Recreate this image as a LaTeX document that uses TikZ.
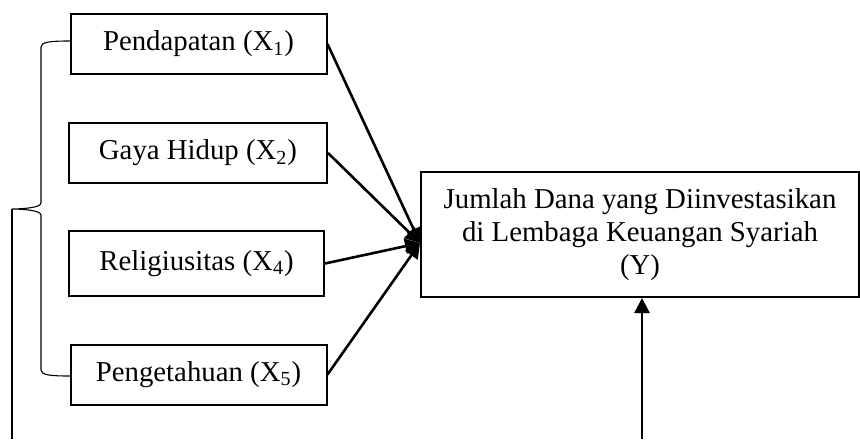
\documentclass[tikz,border=0pt]{standalone}
\usepackage{fontspec}
\setmainfont{Liberation Serif}
\usetikzlibrary{arrows.meta}
\tikzset{
  varbox/.style={draw, line width=1pt, minimum width=128pt, minimum height=30pt,
    inner sep=0pt, font=\fontsize{14.4}{16.5}\selectfont},
  link/.style={line width=1.3pt, -{Triangle[length=7.5pt,width=7.5pt]}},
  bracket/.style={line width=0.55pt}
}
\begin{document}
\begin{tikzpicture}[x=0.5pt,y=-0.5pt]
  \useasboundingbox (0,0) rectangle (860,439);
  % four boxes stacked on the left
  \node[varbox] (pend) at (198.5,44) {Pendapatan (X\textsubscript{1})};
  \node[varbox, minimum width=129pt] (gaya) at (198,153) {Gaya Hidup (X\textsubscript{2})};
  \node[varbox, minimum width=127.5pt, minimum height=32.5pt] (reli) at (196.5,263.5) {Religiusitas (X\textsubscript{4})};
  \node[varbox] (peng) at (198.5,374.5) {Pengetahuan (X\textsubscript{5})};

  % big box on the right with three lines of text
  \node[varbox, minimum width=219pt, minimum height=62.5pt, align=center] (dana) at (640,234.5)
    {Jumlah Dana yang Diinvestasikan\\di Lembaga Keuangan Syariah\\(Y)};

  % all four arrows meet at one point on the left side of the big box
  \coordinate (hub) at (420,243);
  \draw[link] (pend.east) -- (hub);
  \draw[link] (gaya.east) -- (hub);
  \draw[link] (reli.east) -- (hub);
  \draw[link] (peng.east) -- (hub);

  % curly bracket round the four boxes, tip pointing left
  \coordinate (tip) at (12,209);
  \draw[bracket] (70,41) .. controls (50,41) and (41,42) .. (41,47) -- (41,203)
    .. controls (41,208) and (20,209) .. (tip)
    .. controls (20,209) and (41,210) .. (41,215) -- (41,370)
    .. controls (41,375) and (50,376) .. (70,376);
  % line going down from the bracket tip
  \coordinate (tipend) at (12,439);
  \draw[bracket] (tip) -- (tipend);

  % arrow coming up into the bottom of the big box
  \coordinate (foot) at (642,439);
  \draw[link] (foot) -- (foot |- dana.south);
\end{tikzpicture}
\end{document}
